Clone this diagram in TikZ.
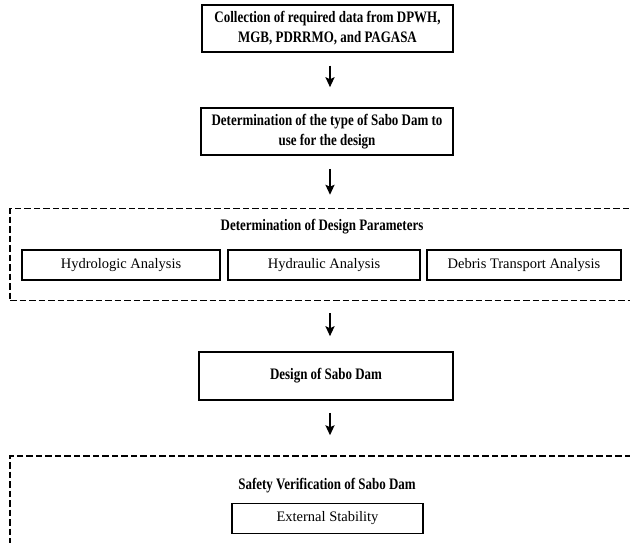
\documentclass[tikz,border=0pt]{standalone}
\usepackage{fontspec}
\setmainfont{Liberation Serif}
% condensed bold face for the step and heading texts
\newfontfamily\headfont[FakeStretch=0.81]{Liberation Serif}
\usetikzlibrary{arrows.meta}
\begin{document}
\begin{tikzpicture}[x=1pt,y=-1pt,
  txt/.style={font=\fontsize{14.5}{20}\selectfont, align=center, inner sep=0pt},
  stepbox/.style={txt, draw, line width=1.5pt, font=\headfont\bfseries\fontsize{16}{20}\selectfont},
  subbox/.style={txt, draw, line width=1.5pt, minimum height=30pt},
  group/.style={draw, dashed, dash pattern=on 6.5pt off 3pt, line width=1.4pt, inner sep=0pt},
  heading/.style={txt, font=\headfont\bfseries\fontsize{16}{20}\selectfont},
  flow/.style={line width=2pt, -{Stealth[length=10pt,width=9pt,inset=2pt]}}]
  \useasboundingbox (0,0) rectangle (630,543);
  \clip (0,0) rectangle (630,543);

  % main steps
  \node[stepbox, minimum width=251pt, minimum height=47pt] (b1) at (327.5,28.5)
    {Collection of required data from DPWH,\\MGB, PDRRMO, and PAGASA};
  \node[stepbox, minimum width=252pt, minimum height=47pt] (b2) at (327,131.5)
    {Determination of the type of Sabo Dam to\\use for the design};

  % design parameters group
  \node[group, minimum width=634pt, minimum height=92pt] (g1) at (327,254.5) {};
  \node[heading] (g1t) at (322,227) {Determination of Design Parameters};
  \node[subbox, minimum width=198pt] (h1) at (121,265) {Hydrologic Analysis};
  \node[subbox, minimum width=192pt] (h2) at (324,265) {Hydraulic Analysis};
  \node[subbox, minimum width=194pt] (h3) at (524,265) {Debris Transport Analysis};

  \node[stepbox, minimum width=254pt, minimum height=48pt] (b3) at (326,376)
    {Design of Sabo Dam};

  % safety verification group
  \node[group, minimum width=640pt, minimum height=120pt] (g2) at (330,516) {};
  \node[heading] (g2t) at (327,486) {Safety Verification of Sabo Dam};
  \node[subbox, minimum width=191pt] (s1) at (327.5,518.5) {External Stability};

  % connectors
  \draw[flow, shorten <=13pt, shorten >=20pt] ([xshift=2.5pt]b1.south) -- ([xshift=2.5pt]b1.south |- b2.north);
  \draw[flow, shorten <=13pt, shorten >=13pt] ([xshift=3pt]b2.south) -- ([xshift=3pt]b2.south |- g1.north);
  \draw[flow, shorten <=12pt, shorten >=15pt] (330,0 |- g1.south) -- (330,0 |- b3.north);
  \draw[flow, shorten <=12pt, shorten >=20pt] ([xshift=4pt]b3.south) -- ([xshift=4pt]b3.south |- g2.north);
\end{tikzpicture}
\end{document}
